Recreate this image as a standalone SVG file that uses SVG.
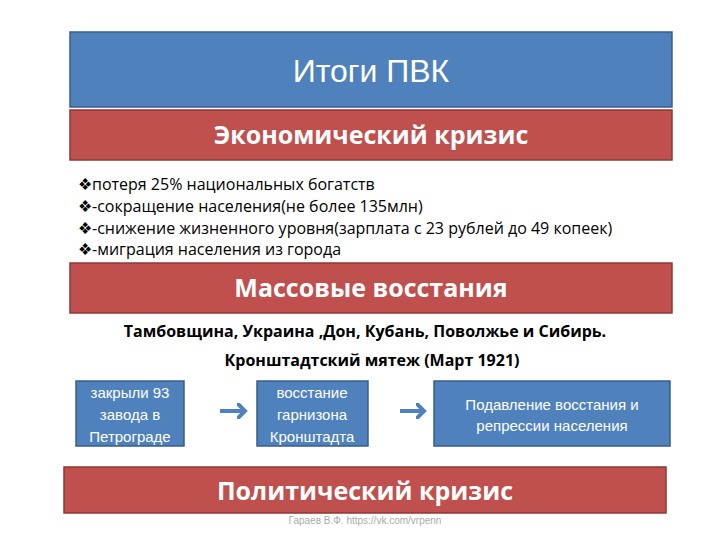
<svg xmlns="http://www.w3.org/2000/svg" width="720" height="540" viewBox="0 0 720 540">
<style>
.red{fill:#c0504d;stroke:#8c3836;stroke-width:1.5}
.blue{fill:#4f81bd;stroke:#385d8a;stroke-width:1.5}
.h{font-family:"Open Sans","Liberation Sans",sans-serif;font-weight:bold;fill:#fff;font-size:25px;text-anchor:middle}
.b{font-family:"Open Sans","Liberation Sans",sans-serif;font-size:16px;fill:#000}
.w{font-family:"Liberation Sans",sans-serif;font-size:15px;fill:#fff;text-anchor:middle}
</style>
<defs><marker id="ar" markerWidth="4" markerHeight="4" refX="2" refY="2" orient="auto" markerUnits="strokeWidth"><path d="M0,0L2,2L0,4" fill="none" stroke="#4f81bd" stroke-width="1"/></marker></defs>
<rect width="720" height="540" fill="#fff"/>
<g id="title"><rect class="blue" x="70" y="32" width="602" height="75"/><text x="371" y="82" font-family="Liberation Sans,sans-serif" font-size="32" fill="#fff" text-anchor="middle">Итоги ПВК</text></g>
<g id="econ"><rect class="red" x="70" y="110" width="602" height="50"/><text class="h" x="371" y="144">Экономический кризис</text></g>
<g id="bullets" class="b">
<text x="78" y="190">❖потеря 25% национальных богатств</text>
<text x="78" y="212">❖-сокращение населения(не более 135млн)</text>
<text x="78" y="234">❖-снижение жизненного уровня(зарплата с 23 рублей до 49 копеек)</text>
<text x="78" y="255">❖-миграция населения из города</text>
</g>
<g id="mass"><rect class="red" x="70" y="263" width="602" height="50"/><text class="h" x="371" y="297">Массовые восстания</text></g>
<g id="regions" class="b" text-anchor="middle" font-weight="bold">
<text x="365" y="337" font-weight="bold">Тамбовщина, Украина ,Дон, Кубань, Поволжье и Сибирь.</text>
<text x="372" y="366" font-weight="bold">Кронштадтский мятеж (Март 1921)</text>
</g>
<g id="n1"><rect class="blue" x="76" y="381" width="108" height="65"/><text class="w" x="130" y="398">закрыли 93</text><text class="w" x="130" y="420">завода в</text><text class="w" x="130" y="442">Петрограде</text></g>
<g id="n2"><rect class="blue" x="257" y="381" width="111" height="65"/><text class="w" x="312" y="398">восстание</text><text class="w" x="312" y="420">гарнизона</text><text class="w" x="312" y="442">Кронштадта</text></g>
<g id="n3"><rect class="blue" x="434" y="381" width="236" height="65"/><text class="w" x="552" y="410">Подавление восстания и</text><text class="w" x="552" y="431">репрессии населения</text></g>
<g id="connectors" stroke="#4f81bd" stroke-width="4" fill="none">
<line x1="220" y1="411" x2="245" y2="411" marker-end="url(#ar)"/>
<line x1="400" y1="411" x2="424" y2="411" marker-end="url(#ar)"/>
</g>
<g id="pol"><rect class="red" x="64" y="467" width="602" height="46"/><text class="h" x="365" y="500">Политический кризис</text></g>
<text x="365" y="524" font-family="Liberation Sans,sans-serif" font-size="10" fill="#aaa" text-anchor="middle">Гараев В.Ф. https://vk.com/vrpenn</text>
</svg>
